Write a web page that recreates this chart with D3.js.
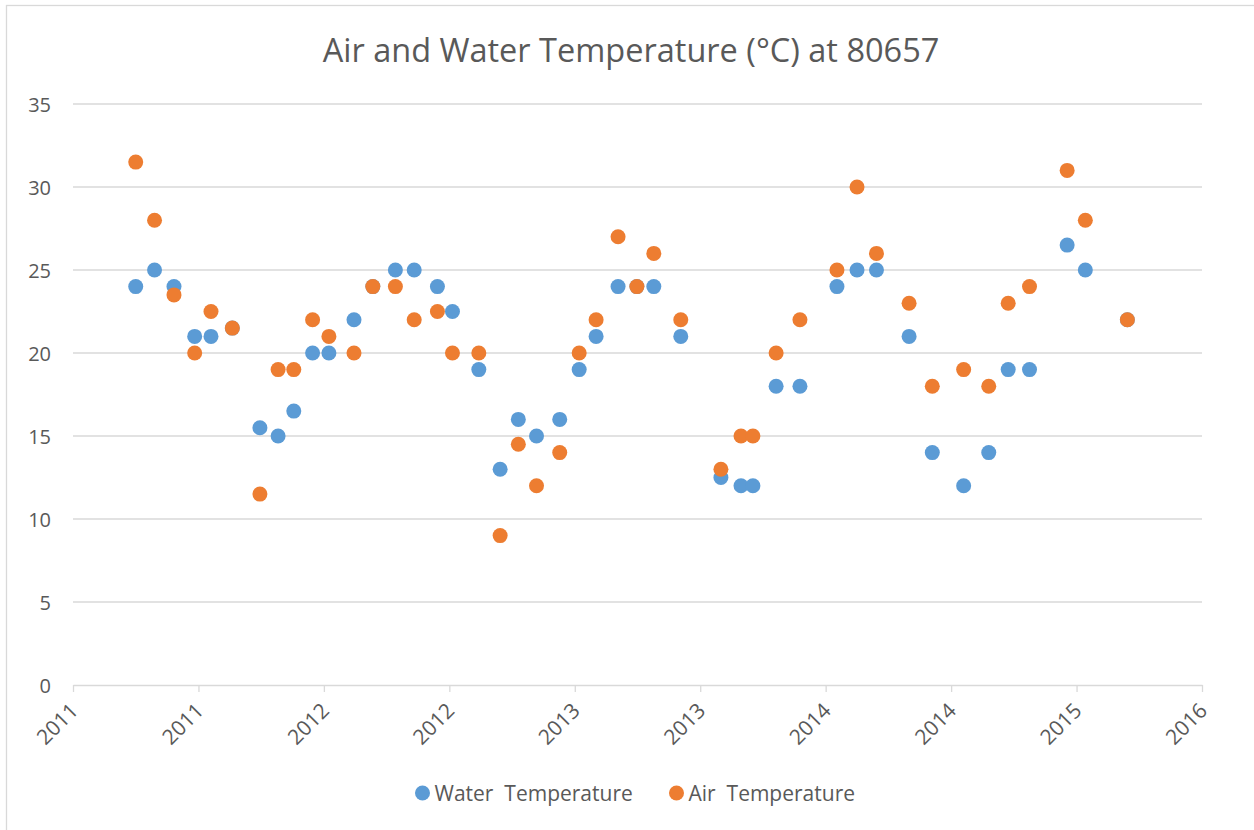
<!DOCTYPE html>
<html>
<head>
<meta charset="utf-8">
<script src="https://cdnjs.cloudflare.com/ajax/libs/d3/7.8.5/d3.min.js"></script>
<style>
  body { margin: 0; background: #ffffff; }
  text { font-family: "Open Sans", "DejaVu Sans", sans-serif; fill: #595959; }
</style>
</head>
<body>
<div id="scatter"></div>
<script>
// Sample dates and readings
var sampleDates = [
  "2011-06-06", "2011-07-06", "2011-08-06", "2011-09-08", "2011-10-04", "2011-11-07",
  "2011-12-21", "2012-01-19", "2012-02-13", "2012-03-14", "2012-04-09", "2012-05-19",
  "2012-06-18", "2012-07-24", "2012-08-23", "2012-09-29", "2012-10-23", "2012-12-04",
  "2013-01-07", "2013-02-05", "2013-03-06", "2013-04-12", "2013-05-13", "2013-06-09",
  "2013-07-14", "2013-08-13", "2013-09-09", "2013-10-22", "2013-12-25", "2014-01-26",
  "2014-02-14", "2014-03-23", "2014-04-30", "2014-06-28", "2014-07-30", "2014-08-30",
  "2014-10-21", "2014-11-27", "2015-01-16", "2015-02-25", "2015-03-28", "2015-05-01",
  "2015-06-30", "2015-07-29", "2015-10-04"
];
var waterTemp = [
  24, 25, 24, 21, 21, 21.5,
  15.5, 15, 16.5, 20, 20, 22,
  24, 25, 25, 24, 22.5, 19,
  13, 16, 15, 16, 19, 21,
  24, 24, 24, 21, 12.5, 12,
  12, 18, 18, 24, 25, 25,
  21, 14, 12, 14, 19, 19,
  26.5, 25, 22
];
var airTemp = [
  31.5, 28, 23.5, 20, 22.5, 21.5,
  11.5, 19, 19, 22, 21, 20,
  24, 24, 22, 22.5, 20, 20,
  9, 14.5, 12, 14, 20, 22,
  27, 24, 26, 22, 13, 15,
  15, 20, 22, 25, 30, 26,
  23, 18, 19, 18, 23, 24,
  31, 28, 22
];

// Axis ticks (Excel date axis, one tick every 200 days)
var xTickDates = [
  "2011-02-26", "2011-09-14", "2012-04-01", "2012-10-18", "2013-05-06",
  "2013-11-22", "2014-06-10", "2014-12-27", "2015-07-15", "2016-01-31"
];
var yTicks = [0, 5, 10, 15, 20, 25, 30, 35];

var seriesNames = ["Water  Temperature", "Air  Temperature"];
var seriesColors = ["#5b9bd5", "#ed7d31"];

var svgWidth = 1254;
var svgHeight = 830;

var margin = { top: 104, right: 52, bottom: 145, left: 73 };
var chartWidth = svgWidth - margin.left - margin.right;
var chartHeight = svgHeight - margin.top - margin.bottom;

var parseDate = d3.timeParse("%Y-%m-%d");
var formatYear = d3.timeFormat("%Y");

var svg = d3.select("#scatter")
  .append("svg")
  .attr("width", svgWidth)
  .attr("height", svgHeight);

// chart border (only top/left edges fall inside the picture)
svg.append("rect")
  .attr("x", 6.5)
  .attr("y", 5.5)
  .attr("width", svgWidth + 20)
  .attr("height", svgHeight + 20)
  .attr("fill", "none")
  .attr("stroke", "#d9d9d9")
  .attr("stroke-width", 1.3);

var chartGroup = svg.append("g")
  .attr("transform", `translate(${margin.left}, ${margin.top})`);

var xTimeScale = d3.scaleTime()
  .range([0, chartWidth])
  .domain([parseDate(xTickDates[0]), parseDate(xTickDates[xTickDates.length - 1])]);

var yLinearScale = d3.scaleLinear()
  .range([chartHeight, 0])
  .domain([0, 35]);

// gridlines
chartGroup.selectAll(".grid")
  .data(yTicks.filter(t => t > 0))
  .enter()
  .append("line")
  .attr("x1", 0)
  .attr("x2", chartWidth)
  .attr("y1", d => yLinearScale(d))
  .attr("y2", d => yLinearScale(d))
  .attr("stroke", "#d9d9d9")
  .attr("stroke-width", 1.3);

// left axis labels only
var leftAxis = d3.axisLeft(yLinearScale)
  .tickValues(yTicks)
  .tickSize(0)
  .tickPadding(22);

var yAxisGroup = chartGroup.append("g").call(leftAxis);
yAxisGroup.select(".domain").remove();
yAxisGroup.selectAll("text")
  .style("font-size", "20px")
  .attr("dy", "0.36em");

// bottom axis
var bottomAxis = d3.axisBottom(xTimeScale)
  .tickValues(xTickDates.map(parseDate))
  .tickFormat(formatYear)
  .tickSizeInner(7)
  .tickSizeOuter(0);

var xAxisGroup = chartGroup.append("g")
  .attr("transform", "translate(0, " + chartHeight + ")")
  .call(bottomAxis);

xAxisGroup.select(".domain")
  .attr("stroke", "#d9d9d9")
  .attr("stroke-width", 1.3);
xAxisGroup.selectAll(".tick line")
  .attr("stroke", "#d9d9d9")
  .attr("stroke-width", 1.3);
xAxisGroup.selectAll("text")
  .style("font-size", "21px")
  .style("text-anchor", "end")
  .attr("dy", null)
  .attr("y", 0)
  .attr("transform", "translate(6, 27) rotate(-45)");

// points, water first then air on top
var seriesData = [waterTemp, airTemp];
seriesData.forEach(function(vals, s) {
  chartGroup.append("g")
    .selectAll("circle")
    .data(vals)
    .enter()
    .append("circle")
    .attr("cx", (d, i) => xTimeScale(parseDate(sampleDates[i])))
    .attr("cy", d => yLinearScale(d))
    .attr("r", 7.5)
    .attr("fill", seriesColors[s]);
});

// title
svg.append("text")
  .attr("x", 631)
  .attr("y", 62)
  .style("text-anchor", "middle")
  .style("font-size", "32.5px")
  .text("Air and Water Temperature (°C) at 80657");

// legend
var legendX = [422.5, 676.5];
var legend = svg.selectAll(".legend")
  .data(seriesNames)
  .enter()
  .append("g")
  .attr("transform", (d, i) => `translate(${legendX[i]}, 793)`);

legend.append("circle")
  .attr("r", 7.5)
  .attr("fill", (d, i) => seriesColors[i]);

legend.append("text")
  .attr("x", 12)
  .attr("dy", "0.36em")
  .style("font-size", "21px")
  .style("white-space", "pre")
  .text(d => d);
</script>
</body>
</html>
